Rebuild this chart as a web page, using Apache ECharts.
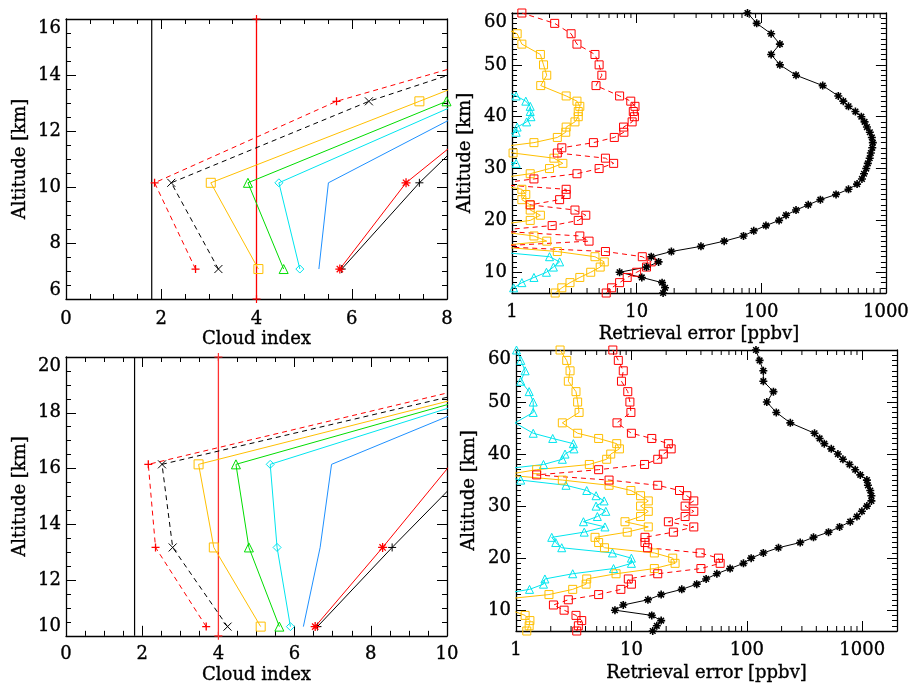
<!DOCTYPE html>
<html><head><meta charset="utf-8">
<script src="https://cdn.jsdelivr.net/npm/echarts@6/dist/echarts.min.js"></script>
<style>html,body{margin:0;padding:0;background:#fff}#c{width:912px;height:686px}</style>
</head><body><div id="c"></div>
<script>
// ---------- DATA ----------
// Top-left panel: cloud index vs altitude
const altA = [7.07, 10.15, 13.06, 16.0];
const a_redDash   = [2.72, 1.86, 5.68, 11.7];
const a_blackDash = [3.20, 2.21, 6.36, 11.6];
const a_orange    = [4.04, 3.04, 7.42, 11.8];
const a_green     = [4.57, 3.82, 7.99];
const a_cyan      = [4.91, 4.47, 8.36];
const a_blue      = [5.31, 5.51, 8.80];
const a_red       = [5.75, 7.14, 9.26];
const a_black     = [5.79, 7.42, 9.19];
const a_thrBlack = 1.8, a_thrRed = 4.0;

// Bottom-left panel
const altC = [10.33, 13.17, 16.15, 19.1];
const c_redDash   = [3.68, 2.35, 2.16, 11.2];
const c_blackDash = [4.24, 2.80, 2.52, 11.7];
const c_orange    = [5.11, 3.88, 3.48, 12.0];
const c_green     = [5.60, 4.80, 4.46, 12.1];
const c_cyan      = [5.89, 5.54, 5.36, 12.2];
const c_blue      = [6.23, 6.67, 6.97, 12.2];
const c_red       = [6.54, 8.31, 10.1];
const c_black     = [6.60, 8.56, 10.7];
const c_thrBlack = 1.8, c_thrRed = 4.0;

// Right panels: retrieval error vs altitude
const altR = [6,7,8,9,10,11,12,13,14,15,16,17,18,19,20,21,22,23,24,25,26,27,28,29,30,31,32,33,34,35,36,37,38,39,40,41,42,43,44,46,48,50,52,54,56,58,60];
const b_black  = [16.3,16.9,16.0,11.0,7.3,12.0,15.0,13.1,19.0,32.8,50.4,72,87,109,139,158,190,238,298,398,501,587,642,667,695,716,741,757,777,785,771,743,704,674,635,569,501,455,415,311,190,141,120,141,120,91.9,77.5];
const b_red    = [5.7,6.3,7.3,8.4,10.0,12.0,13.1,11.1,5.62,0.7,4.15,3.5,0.7,2.1,3.4,3.91,3.2,1.4,2.41,2.72,2.72,0.7,1.5,3.32,5.0,6.54,5.62,2.31,2.51,4.5,6.62,7.9,7.85,9.2,9.6,9.4,9.7,8.97,7.3,4.72,5.26,5.0,4.63,3.32,2.98,2.2,1.2];
const b_orange = [2.22,2.51,2.92,3.5,4.28,5.1,5.5,4.63,2.31,0.7,1.9,1.5,0.7,0.7,1.4,1.69,1.4,1.4,1.2,1.29,1.2,0.7,0.7,1.4,2.0,2.56,2.17,1.02,0.7,1.5,2.31,2.7,2.72,3.2,3.4,3.4,3.5,3.32,2.72,1.7,1.9,1.79,1.69,1.2,1.1,0.7,0.7];
const b_cyan   = [0.7,1.03,1.2,1.5,1.89,2.15,2.41,2.0,0.7,0.7,0.7,0.7,0.7,0.7,0.7,0.7,0.7,0.7,0.7,0.7,0.7,0.7,0.7,0.7,0.7,1.08,0.7,0.7,0.7,0.7,0.7,1.08,1.1,1.31,1.42,1.4,1.4,1.29,1.08,0.7,0.7,0.7,0.7,0.7,0.7,0.7,0.7];

const d_black  = [15.3,16.6,18.1,15.0,7.2,8.5,13.9,18.1,27.3,36.8,44.4,55,71.6,93.5,109,139,188,290,378,510,636,787,899,993,1097,1200,1200,1173,1120,1097,961,869,776,680,615,539,469,427,386,238,180,149,170,139,139,129,120];
const d_red    = [3.36,3.47,3.71,3.31,2.61,2.11,2.84,5.2,8.1,10.0,9.4,16.9,40,58.7,56.8,39.4,13.8,13.1,13.1,23.1,34.7,20.9,29.2,34.7,29.2,34.7,30.2,26.1,16.9,6.4,1.51,5.2,13.0,16.9,18.9,22.1,20.9,15.0,10.0,7.5,9.9,9.7,9.3,8.2,8.5,7.7,6.9];
const d_orange = [1.24,1.3,1.32,1.2,0.9,0.7,0.7,1.93,3.1,4.05,4.1,7.36,15.8,23.9,22.8,15.8,5.84,5.2,4.84,9.2,14.0,8.8,12.0,14.0,12.0,14.0,12.0,9.9,6.4,2.52,0.8,1.51,4.32,6.1,6.62,7.87,7.46,5.2,3.42,2.52,3.52,3.42,3.31,2.84,2.94,2.75,2.41];
const d_cyan   = [0.7,0.7,0.7,0.7,0.7,0.7,0.7,0.7,1.31,1.73,1.78,3.1,7.0,10.0,10.0,6.85,2.49,2.21,2.04,3.9,5.9,3.84,5.07,6.0,4.94,5.8,4.94,4.1,2.71,1.1,0.7,0.7,1.73,2.52,2.66,3.18,3.14,2.08,1.41,0.98,1.41,1.41,1.3,1.1,1.2,1.1,1.01];

const logMinorB = [2,3,4,5,6,7,8,9,20,30,40,50,60,70,80,90,200,300,400,500,600,700,800,900];
const logMinorD = [2,3,4,5,6,7,8,9,20,30,40,50,60,70,80,90,200,300,400,500,600,700,800,900];

// ---------- STYLE ----------
const FONT = 'DejaVu Serif';
const FS = 18;
const TXT = { color: '#000', fontFamily: FONT, fontSize: FS, textBorderColor: '#000', textBorderWidth: 0.35 };
const RED = '#ff0000', BLACK = '#000000', ORANGE = '#ffbf00', GREEN = '#00dd00', CYAN = '#00e5ee', BLUE = '#1e90ff';
const SYM = {
  plus: 'path://M5,0L5,10M0,5L10,5',
  x: 'path://M0,0L10,10M10,0L0,10',
  star: 'path://M5,0L5,10M0,5L10,5M1.5,1.5L8.5,8.5M8.5,1.5L1.5,8.5',
  square: 'path://M0,0L10,0L10,10L0,10Z',
  tri: 'path://M5,0L10,9L0,9Z',
  diamond: 'path://M5,0L10,5L5,10L0,5Z'
};

function zip(xs, alts) { const d = []; for (let i = 0; i < xs.length; i++) d.push([xs[i], alts[i]]); return d; }

function line(axis, data, color, sym, size, dashed, bw, lw) {
  return {
    type: 'line', xAxisIndex: axis, yAxisIndex: axis, data: data,
    symbol: sym ? SYM[sym] : 'none', symbolSize: size || 8, showSymbol: !!sym,
    clip: true, animation: false, silent: true,
    lineStyle: { color: color, width: lw || 1, type: dashed ? [5, 4] : 'solid' },
    itemStyle: { color: 'rgba(0,0,0,0)', borderColor: color, borderWidth: bw || 1 }
  };
}

function xAx(grid, pos, type, min, max, interval, showLabel, name, nameGap, minorSplit, margin) {
  const a = {
    gridIndex: grid, type: type, position: pos, min: min, max: max,
    axisLine: { show: true, onZero: false, lineStyle: { color: '#000', width: 1.3 } },
    axisTick: { show: true, inside: true, length: 10, lineStyle: { color: '#000', width: 1 } },
    splitLine: { show: false },
    axisLabel: Object.assign({ show: showLabel, margin: margin }, TXT),
    name: showLabel ? name : '', nameLocation: 'middle', nameGap: nameGap,
    nameTextStyle: Object.assign({}, TXT)
  };
  if (type === 'log') {
    a.logBase = 10;
    a.axisLabel.formatter = v => { const l = Math.log10(v); return Math.abs(l - Math.round(l)) < 1e-6 ? String(Math.round(v)) : ''; };
  } else {
    a.interval = interval;
    a.minorTick = { show: true, splitNumber: minorSplit, length: 5, lineStyle: { color: '#000', width: 1 } };
  }
  return a;
}

function yAx(grid, pos, min, max, interval, showLabel, name, nameGap, minorSplit, extra) {
  const a = {
    gridIndex: grid, type: 'value', position: pos, min: min, max: max,
    axisLine: { show: true, onZero: false, lineStyle: { color: '#000', width: 1.3 } },
    axisTick: { show: true, inside: true, length: 10, lineStyle: { color: '#000', width: 1 } },
    minorTick: { show: true, splitNumber: minorSplit, length: 5, lineStyle: { color: '#000', width: 1 } },
    splitLine: { show: false },
    axisLabel: Object.assign({ show: showLabel, margin: 5 }, TXT, extra || {}),
    name: showLabel ? name : '', nameLocation: 'middle', nameGap: nameGap,
    nameTextStyle: Object.assign({}, TXT)
  };
  if (interval) a.interval = interval; else a.splitNumber = 5;
  return a;
}

function minorLog(axis, vals, yMin, yMax) {
  return {
    type: 'custom', xAxisIndex: axis, yAxisIndex: axis, silent: true, animation: false,
    data: vals.map(v => [v, yMin]),
    renderItem: function (params, api) {
      const v = api.value(0);
      const b = api.coord([v, yMin]);
      const t = api.coord([v, yMax]);
      return { type: 'group', children: [
        { type: 'line', shape: { x1: b[0], y1: b[1], x2: b[0], y2: b[1] - 5 }, style: { stroke: '#000', lineWidth: 1 } },
        { type: 'line', shape: { x1: t[0], y1: t[1], x2: t[0], y2: t[1] + 5 }, style: { stroke: '#000', lineWidth: 1 } }
      ]};
    }
  };
}

const endAlign = { verticalAlignMaxLabel: 'top', verticalAlignMinLabel: 'bottom' };

const option = {
  backgroundColor: '#fff',
  animation: false,
  grid: [
    { left: 66, top: 19, width: 381, height: 280 },
    { left: 512, top: 13, width: 380, height: 280 },
    { left: 66, top: 357, width: 381, height: 280 },
    { left: 516, top: 350, width: 381, height: 281 }
  ],
  xAxis: [
    xAx(0, 'bottom', 'value', 0, 8, 2, true, 'Cloud index', 31, 4, 11),
    xAx(0, 'top', 'value', 0, 8, 2, false, '', 0, 4, 0),
    xAx(1, 'bottom', 'log', 1, 1000, null, true, 'Retrieval error [ppbv]', 32, 0, 10),
    xAx(1, 'top', 'log', 1, 1000, null, false, '', 0, 0, 0),
    xAx(2, 'bottom', 'value', 0, 10, 2, true, 'Cloud index', 31, 4, 10),
    xAx(2, 'top', 'value', 0, 10, 2, false, '', 0, 4, 0),
    xAx(3, 'bottom', 'log', 1, 2000, null, true, 'Retrieval error [ppbv]', 33, 0, 10),
    xAx(3, 'top', 'log', 1, 2000, null, false, '', 0, 0, 0)
  ],
  yAxis: [
    yAx(0, 'left', 6, 16, 2, true, 'Altitude [km]', 37, 4, endAlign),
    yAx(0, 'right', 6, 16, 2, false, '', 0, 4),
    yAx(1, 'left', 6, 60, null, true, 'Altitude [km]', 38, 10, { showMinLabel: false, verticalAlignMaxLabel: 'top' }),
    yAx(1, 'right', 6, 60, null, false, '', 0, 10),
    yAx(2, 'left', 10, 20, 2, true, 'Altitude [km]', 37, 4, endAlign),
    yAx(2, 'right', 10, 20, 2, false, '', 0, 4),
    yAx(3, 'left', 6, 60, null, true, 'Altitude [km]', 38, 10, { showMinLabel: false, verticalAlignMaxLabel: 'top' }),
    yAx(3, 'right', 6, 60, null, false, '', 0, 10)
  ],
  series: [
    // top-left
    line(0, [[a_thrBlack, 6], [a_thrBlack, 16]], BLACK, null, 0, false, 1, 1.2),
    line(0, [[a_thrRed, 6], [a_thrRed, 16]], RED, 'plus', 8, false, 1.2, 1.3),
    line(0, zip(a_blue, altA), BLUE, null, 0, false),
    line(0, zip(a_cyan, altA), CYAN, 'diamond', 8, false),
    line(0, zip(a_green, altA), GREEN, 'tri', 9, false),
    line(0, zip(a_orange, altA), ORANGE, 'square', 9, false),
    line(0, zip(a_black, altA), BLACK, 'plus', 8, false),
    line(0, zip(a_red, altA), RED, 'star', 9, false, 1.3),
    line(0, zip(a_blackDash, altA), BLACK, 'x', 8, true),
    line(0, zip(a_redDash, altA), RED, 'plus', 8, true, 1.3),
    // top-right
    line(2, zip(b_cyan, altR), CYAN, 'tri', 8, false),
    line(2, zip(b_orange, altR), ORANGE, 'square', 8, false),
    line(2, zip(b_red, altR), RED, 'square', 8, true),
    line(2, zip(b_black, altR), BLACK, 'star', 8, false, 1.6),
    minorLog(2, logMinorB, 6, 60),
    // bottom-left
    line(4, [[c_thrBlack, 10], [c_thrBlack, 20]], BLACK, null, 0, false, 1, 1.2),
    line(4, [[c_thrRed, 10], [c_thrRed, 20]], '#ff3030', 'plus', 8, false, 1.2, 1.3),
    line(4, zip(c_blue, altC), BLUE, null, 0, false),
    line(4, zip(c_cyan, altC), CYAN, 'diamond', 8, false),
    line(4, zip(c_green, altC), GREEN, 'tri', 9, false),
    line(4, zip(c_orange, altC), ORANGE, 'square', 9, false),
    line(4, zip(c_black, altC), BLACK, 'plus', 8, false),
    line(4, zip(c_red, altC), RED, 'star', 9, false, 1.3),
    line(4, zip(c_blackDash, altC), BLACK, 'x', 8, true),
    line(4, zip(c_redDash, altC), RED, 'plus', 8, true, 1.3),
    // bottom-right
    line(6, zip(d_cyan, altR), CYAN, 'tri', 8, false),
    line(6, zip(d_orange, altR), ORANGE, 'square', 8, false),
    line(6, zip(d_red, altR), RED, 'square', 8, true),
    line(6, zip(d_black, altR), BLACK, 'star', 8, false, 1.6),
    minorLog(6, logMinorD, 6, 60)
  ]
};

const chart = echarts.init(document.getElementById('c'), null, { renderer: 'canvas' });
chart.setOption(option);
</script></body></html>
